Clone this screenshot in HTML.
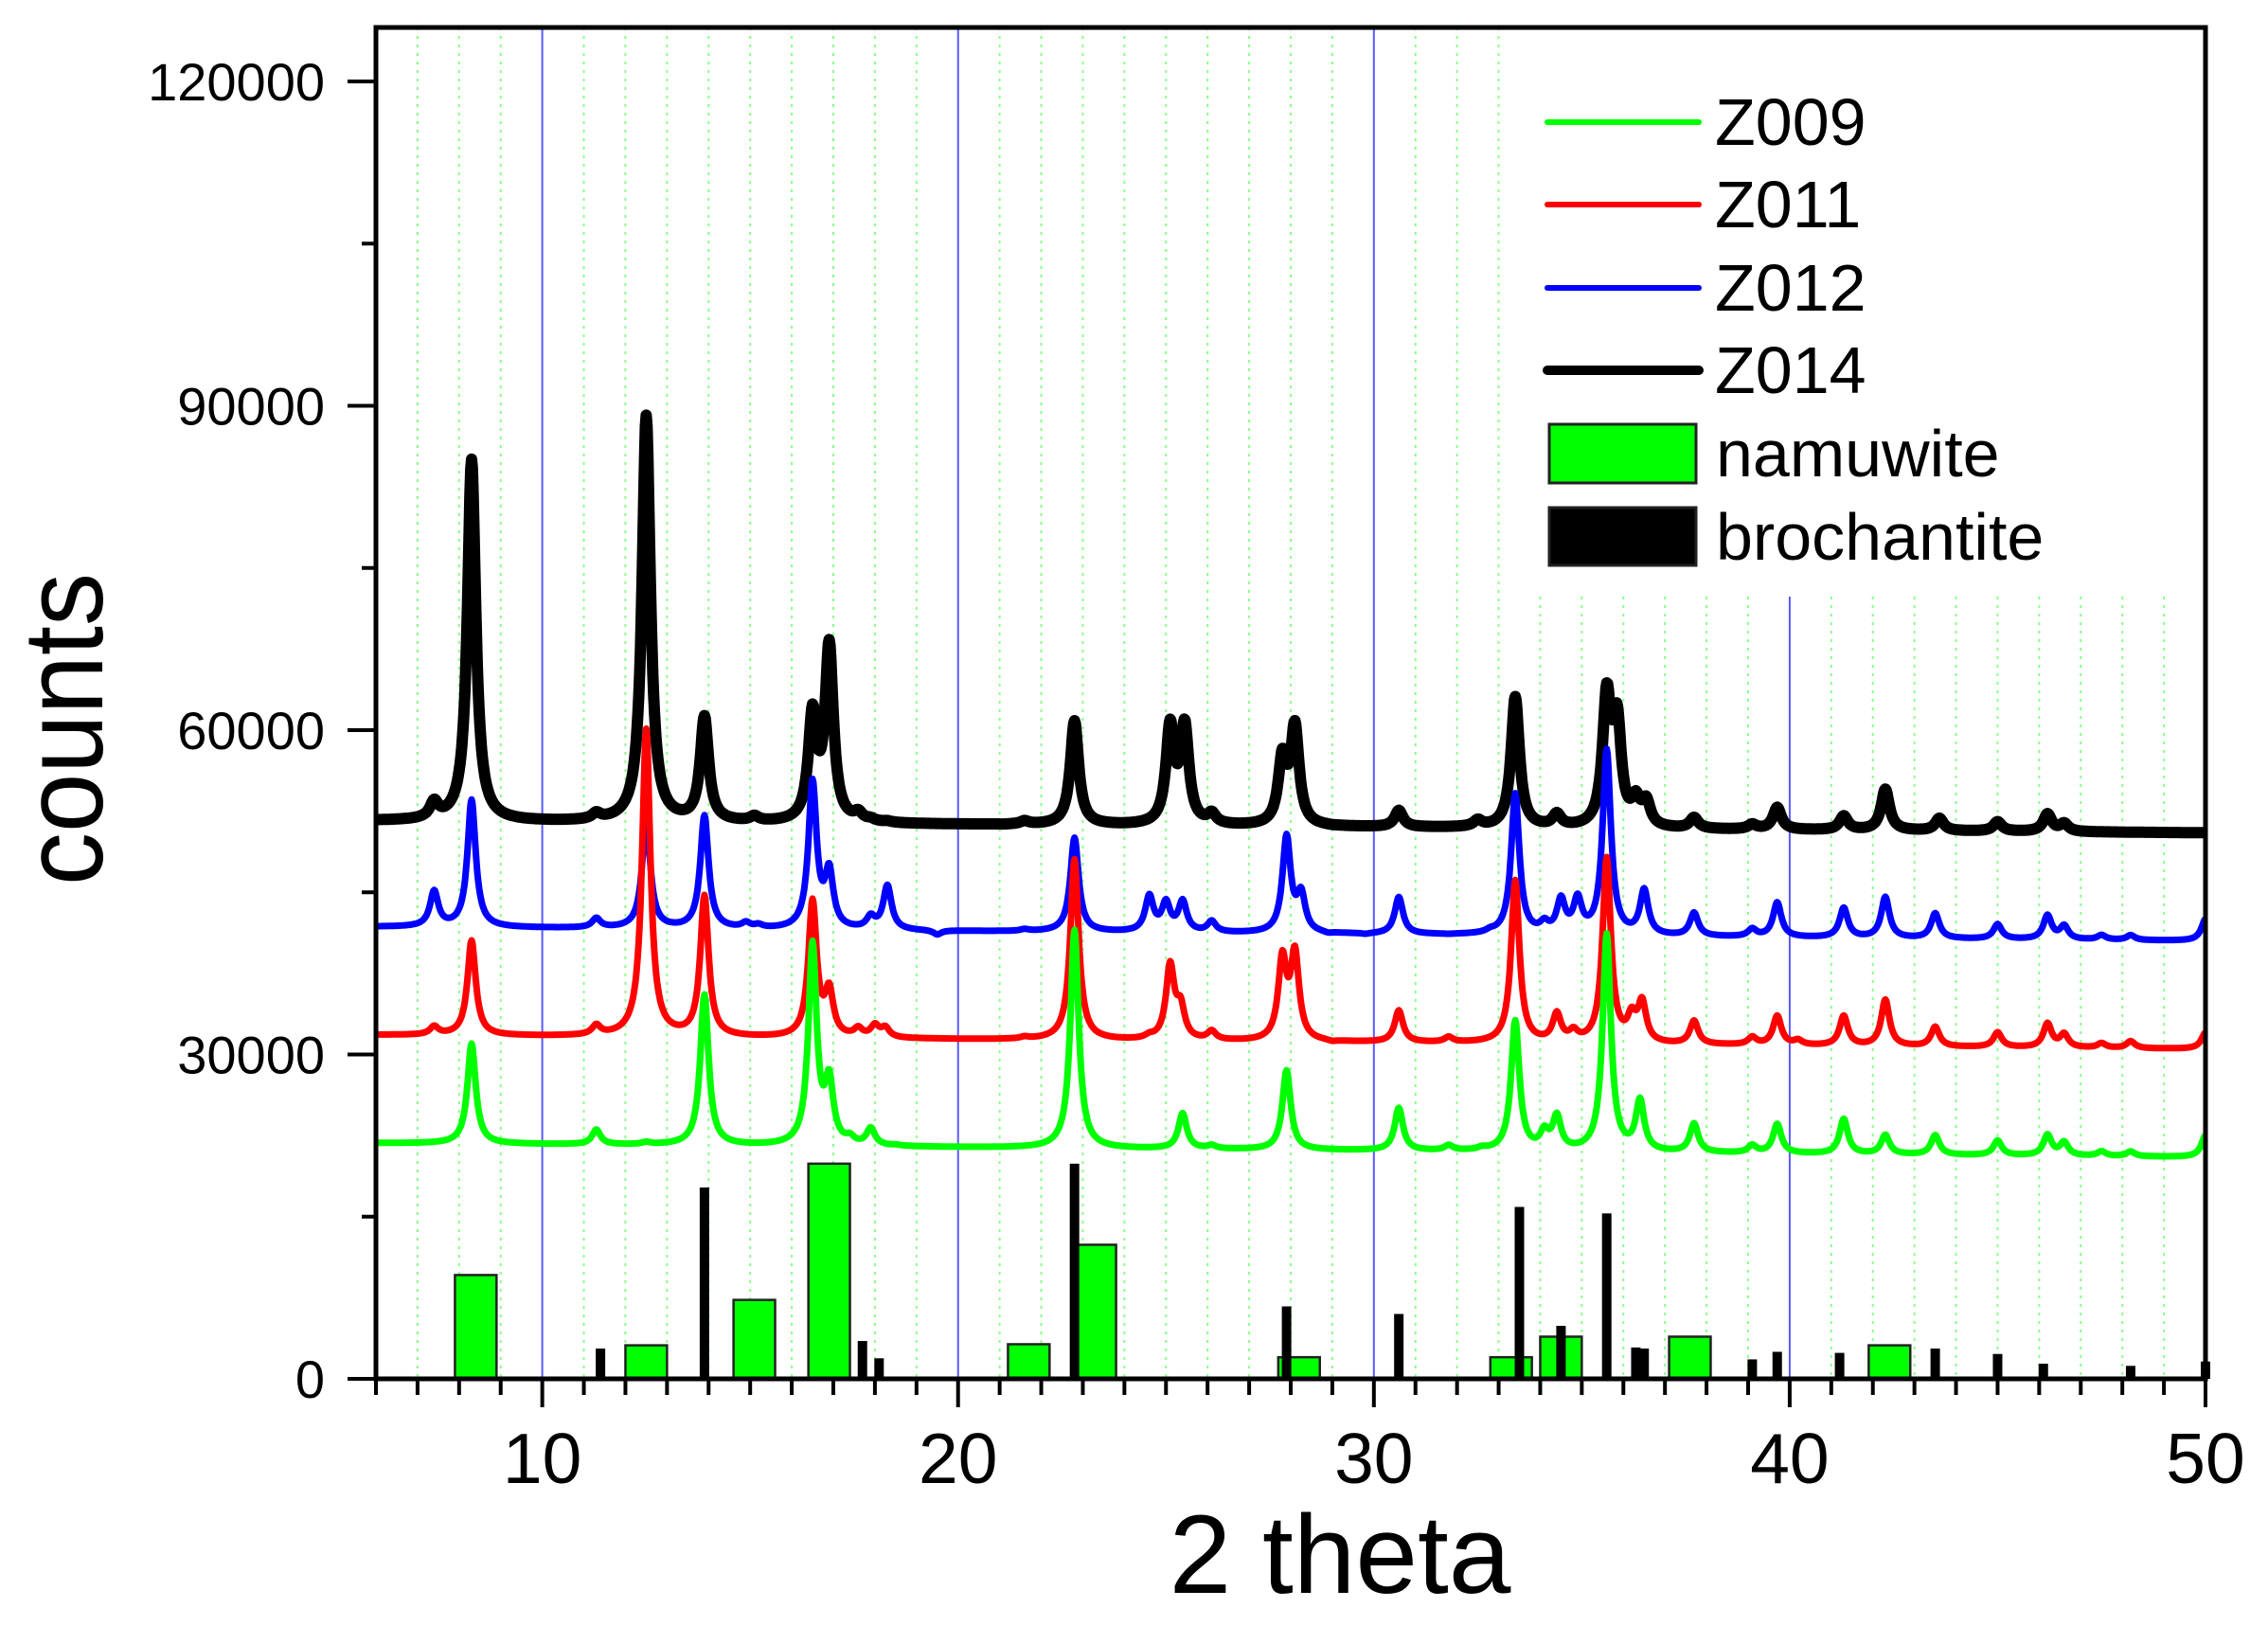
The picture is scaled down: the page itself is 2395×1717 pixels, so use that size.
<!DOCTYPE html>
<html><head><meta charset="utf-8"><style>
body{margin:0;background:#fff}
svg{display:block}
text{font-family:"Liberation Sans",Arial,sans-serif;fill:#000}
</style></head><body>
<svg id="chart" width="2395" height="1717" viewBox="0 0 2395 1717">
<g id="grid"></g>
<rect x="1612" y="32" width="713" height="598" fill="#fff"/>
<g id="bars"></g>
<g id="curves"></g>
<g id="axes"></g>
<g id="legend">
  <line x1="1634" y1="129" x2="1794" y2="129" stroke="#00ff00" stroke-width="6" stroke-linecap="round"/>
  <text x="1811" y="153" font-size="70">Z009</text>
  <line x1="1634" y1="216" x2="1794" y2="216" stroke="#ff0000" stroke-width="6" stroke-linecap="round"/>
  <text x="1811" y="240" font-size="70">Z011</text>
  <line x1="1634" y1="304" x2="1794" y2="304" stroke="#0000ff" stroke-width="6" stroke-linecap="round"/>
  <text x="1811" y="328" font-size="70">Z012</text>
  <line x1="1634" y1="391" x2="1794" y2="391" stroke="#000" stroke-width="10" stroke-linecap="round"/>
  <text x="1811" y="415" font-size="70">Z014</text>
  <rect x="1636" y="448" width="155" height="62" fill="#00ff00" stroke="#222" stroke-width="3"/>
  <text x="1812" y="503" font-size="70">namuwite</text>
  <rect x="1636" y="536" width="155" height="61" fill="#000" stroke="#222" stroke-width="3"/>
  <text x="1812" y="591" font-size="70">brochantite</text>
</g>
<text x="1415" y="1682" font-size="118" text-anchor="middle">2 theta</text>
<text x="0" y="0" font-size="120" text-anchor="middle" textLength="330" lengthAdjust="spacingAndGlyphs" transform="translate(108,770) rotate(-90)">counts</text>
</svg>
<script>
// ---- data ----
const xTicks = [10, 20, 30, 40, 50];
const yTicks = [0, 30000, 60000, 90000, 120000];
const seriesNames = ["Z014", "Z012", "Z011", "Z009"];
const seriesColors = ["#000000", "#0000ff", "#ff0000", "#00ff00"];
const baseStart = [51600, 41800, 31800, 21800];
const baseEnd = [50500, 40500, 30500, 20500];
const z014Pos = [7.4, 8.3, 11.3, 12.5, 13.9, 15.1, 16.5, 16.9, 17.6, 17.9, 18.3, 21.1, 21.6, 22.8, 25.1, 25.45, 26.1, 27.8, 28.1, 29.0, 30.6, 32.5, 33.4, 34.4, 35.6, 35.85, 36.3, 36.55, 37.7, 39.1, 39.7, 41.3, 42.3, 43.6, 45.0, 46.2, 46.6];
const z014Top = [53000, 85000, 52000, 89000, 61000, 51800, 61000, 67500, 52000, 51500, 51400, 51200, 51500, 60800, 60000, 60000, 52000, 57000, 60000, 51000, 52500, 51500, 63000, 52000, 62500, 60000, 53000, 53000, 51800, 51200, 52800, 52000, 54500, 51800, 51500, 52200, 51300];
const z012Pos = [7.4, 8.3, 11.3, 12.5, 13.9, 14.9, 15.2, 16.5, 16.9, 17.9, 18.3, 19.5, 21.6, 22.8, 24.6, 25.0, 25.4, 26.1, 27.9, 28.25, 28.9, 29.8, 30.6, 31.8, 32.8, 33.4, 34.1, 34.5, 34.9, 35.6, 36.5, 37.7, 39.1, 39.7, 41.3, 42.3, 43.5, 45.0, 46.2, 46.6, 47.5, 48.2, 50.0];
const z012Top = [45000, 53500, 42500, 51500, 52000, 42000, 41800, 55000, 46500, 42500, 45500, 41000, 41500, 50000, 44500, 43800, 44000, 42200, 50000, 44500, 41000, 41000, 44500, 41000, 41200, 54000, 41800, 44000, 44000, 58000, 45000, 43000, 41500, 44000, 43500, 44500, 43000, 42000, 42800, 41800, 41000, 41000, 42500];
const z011Pos = [7.4, 8.3, 11.3, 12.5, 13.9, 16.5, 16.9, 17.6, 18.0, 18.25, 21.6, 22.8, 24.6, 25.1, 25.35, 26.1, 27.8, 28.1, 29.0, 30.6, 31.8, 33.4, 34.4, 34.8, 35.6, 36.2, 36.45, 37.7, 39.1, 39.7, 40.2, 41.3, 42.3, 43.5, 45.0, 46.2, 46.6, 47.5, 48.2, 50.0];
const z011Top = [32500, 40500, 32500, 60000, 44500, 44000, 35500, 32200, 32500, 32300, 31500, 48000, 31500, 38000, 34000, 32000, 38500, 39000, 31000, 34000, 31500, 46000, 33500, 31800, 48000, 33000, 34500, 33000, 31500, 33500, 31200, 33500, 35000, 32500, 32000, 32800, 31800, 31000, 31200, 32000];
const z009Pos = [8.3, 11.3, 12.5, 13.9, 16.5, 16.9, 17.4, 17.9, 18.5, 22.8, 25.4, 26.1, 27.9, 30.6, 31.8, 32.6, 33.4, 34.1, 34.4, 35.6, 36.4, 37.7, 39.1, 39.7, 41.3, 42.3, 43.5, 45.0, 46.2, 46.6, 47.5, 48.2, 50.0];
const z009Top = [31000, 23000, 21800, 35500, 40000, 27000, 22000, 23000, 21500, 41500, 24500, 21500, 28500, 25000, 21500, 21200, 33000, 22500, 24000, 41000, 25500, 23500, 21500, 23500, 24000, 22500, 22500, 22000, 22500, 21800, 21000, 21000, 22500];
const namuwitePos = [8.4, 12.5, 15.1, 16.9, 21.7, 23.3, 28.2, 33.3, 34.5, 37.6, 42.4];
const namuwiteHeight = [9600, 3100, 7300, 19900, 3200, 12400, 2000, 2000, 3900, 3900, 3100];
const brochantitePos = [11.4, 13.9, 17.7, 18.1, 22.8, 27.9, 30.6, 33.5, 34.5, 35.6, 36.3, 36.5, 39.1, 39.7, 41.2, 43.5, 45.0, 46.1, 48.2, 50.0];
const brochantiteHeight = [2800, 17700, 3500, 1900, 19900, 6700, 6000, 15900, 4900, 15300, 2900, 2800, 1800, 2500, 2400, 2800, 2300, 1400, 1200, 1600];

const seriesPos = [z014Pos, z012Pos, z011Pos, z009Pos];
const seriesTop = [z014Top, z012Top, z011Top, z009Top];

// ---- axes functions ----
const L = 397, R = 2329, T = 29, B = 1456;
const xMin = 6, xMax = 50;
function xs(v) { return L + (v - xMin) * (R - L) / (xMax - xMin); }
function ys(v) { return B - v * 342.5 / 30000; }
const NS = "http://www.w3.org/2000/svg";
function mk(tag, attrs, parent) {
  const e = document.createElementNS(NS, tag);
  for (const k in attrs) e.setAttribute(k, attrs[k]);
  parent.appendChild(e);
  return e;
}

// grid
const grid = document.getElementById('grid');
for (let v = 7; v < 50; v++) {
  const major = v % 10 === 0;
  const topY = (xs(v) > 1612) ? 630 : T;
  const gl = mk('line', {x1: xs(v), x2: xs(v), y1: topY, y2: B, stroke: major ? '#5a5aff' : '#88ff88', 'stroke-width': 2, 'stroke-dasharray': major ? 'none' : '3 6'}, grid);
  
  
}

// bars
const bars = document.getElementById('bars');
namuwitePos.forEach((p, i) => {
  const r = mk('rect', {x: xs(p - 0.5), y: ys(namuwiteHeight[i]), width: xs(p + 0.5) - xs(p - 0.5), height: ys(0) - ys(namuwiteHeight[i]), fill: '#00ff00', stroke: '#222', 'stroke-width': 2.5}, bars);
  
  
});
brochantitePos.forEach((p, i) => {
  const r = mk('rect', {x: xs(p) - 5, y: ys(brochantiteHeight[i]), width: 10, height: ys(0) - ys(brochantiteHeight[i]), fill: '#000'}, bars);
  
  
});

// curves
const curves = document.getElementById('curves');
const gam = 0.12;
seriesNames.forEach((name, si) => {
  const pos = seriesPos[si], top = seriesTop[si];
  const base = x => baseStart[si] + (baseEnd[si] - baseStart[si]) * (x - xMin) / (xMax - xMin);
  const amp = pos.map((p, k) => top[k] - base(p));
  let d = '';
  for (let x = xMin; x <= xMax + 1e-9; x += 0.02) {
    let y = base(x);
    for (let k = 0; k < pos.length; k++) {
      const u = (x - pos[k]) / gam;
      y += amp[k] / (1 + u * u);
    }
    d += (d ? 'L' : 'M') + xs(x).toFixed(1) + ' ' + ys(y).toFixed(1);
  }
  const path = mk('path', {d: d, fill: 'none', stroke: seriesColors[si], 'stroke-width': si === 0 ? 12 : 7, 'stroke-linejoin': 'round'}, curves);
  
  
});

// axes
const axes = document.getElementById('axes');
const frame = mk('rect', {x: L, y: T, width: R - L, height: B - T, fill: 'none', stroke: '#000', 'stroke-width': 5}, axes);


for (let v = 6; v <= 50; v++) {
  const major = v % 10 === 0;
  const t = mk('line', {x1: xs(v), x2: xs(v), y1: B, y2: B + (major ? 30 : 17), stroke: '#000', 'stroke-width': 4}, axes);
  
  
}
xTicks.forEach(v => {
  const t = mk('text', {x: xs(v), y: B + 110, 'font-size': 75, 'text-anchor': 'middle'}, axes);
  t.textContent = v;
  
  
});
for (let v = 0; v <= 120000; v += 15000) {
  const major = v % 30000 === 0;
  const t = mk('line', {x1: L, x2: L - (major ? 30 : 15), y1: ys(v), y2: ys(v), stroke: '#000', 'stroke-width': 4}, axes);
  
  
}
yTicks.forEach(v => {
  const t = mk('text', {x: 343, y: ys(v) + 20, 'font-size': 56, 'text-anchor': 'end'}, axes);
  t.textContent = v;
  
  
});
</script>
</body></html>
